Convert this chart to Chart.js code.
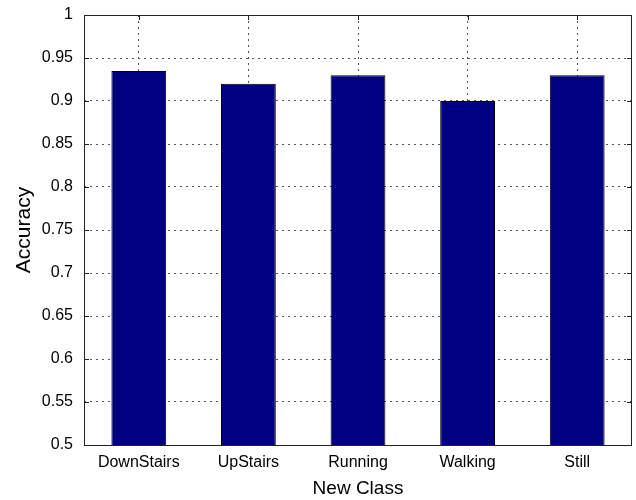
<!DOCTYPE html>
<html>
<head>
<meta charset="utf-8">
<title>Accuracy per new class</title>
<script src="https://cdn.jsdelivr.net/npm/chart.js@4/dist/chart.umd.min.js"></script>
<style>
  html, body { margin: 0; padding: 0; background: #fff; }
  #myChart { display: block; }
</style>
</head>
<body>
<canvas id="myChart" width="636" height="500"></canvas>
<script>
var classes = ['DownStairs', 'UpStairs', 'Running', 'Walking', 'Still'];
var accuracy = [0.935, 0.92, 0.93, 0.90, 0.93];
var yMin = 0.5, yMax = 1, yStep = 0.05;

// box around the plot plus small inward tick marks, matlab style
var axesBox = {
  id: 'axesBox',
  beforeDatasetsDraw: function (chart) {
    var ctx = chart.ctx, a = chart.chartArea;
    var xs = chart.scales.x, ys = chart.scales.y;
    var len = 5;
    ctx.save();
    ctx.strokeStyle = '#222';
    ctx.lineWidth = 1;
    ctx.beginPath();
    ys.ticks.forEach(function (t, i) {
      var y = Math.round(ys.getPixelForTick(i)) + 0.5;
      ctx.moveTo(a.left, y); ctx.lineTo(a.left + len, y);
      ctx.moveTo(a.right, y); ctx.lineTo(a.right - len, y);
    });
    xs.ticks.forEach(function (t, i) {
      var x = Math.round(xs.getPixelForTick(i)) + 0.5;
      ctx.moveTo(x, a.top); ctx.lineTo(x, a.top + len);
    });
    ctx.stroke();
    ctx.restore();
  },
  afterDraw: function (chart) {
    var ctx = chart.ctx, a = chart.chartArea;
    ctx.save();
    ctx.strokeStyle = '#222';
    ctx.lineWidth = 1;
    ctx.strokeRect(Math.round(a.left) + 0.5, Math.round(a.top) + 0.5,
      Math.round(a.right - a.left) - 1, Math.round(a.bottom - a.top));
    ctx.restore();
  }
};

var ctx = document.getElementById('myChart').getContext('2d');
var myChart = new Chart(ctx, {
  type: 'bar',
  data: {
    labels: classes,
    datasets: [{
      data: accuracy,
      backgroundColor: '#000080',
      borderColor: '#000000',
      borderWidth: 1,
      borderSkipped: false,
      barPercentage: 0.5,
      categoryPercentage: 1
    }]
  },
  options: {
    responsive: false,
    animation: false,
    events: [],
    layout: { padding: { top: 15, right: 4, left: 0, bottom: 0 } },
    plugins: { legend: { display: false }, tooltip: { enabled: false } },
    scales: {
      x: {
        offset: true,
        grid: {
          offset: false,
          color: '#555',
          lineWidth: 1,
          drawTicks: false,
          tickLength: 0
        },
        border: { display: false, dash: [2, 4] },
        ticks: {
          color: '#000',
          padding: 8,
          font: { family: 'Liberation Sans, Arial, sans-serif', size: 16 }
        },
        title: {
          display: true,
          text: 'New Class',
          color: '#000',
          padding: { top: 0, bottom: 0 },
          font: { family: 'Liberation Sans, Arial, sans-serif', size: 19 }
        },
        afterFit: function (scale) {
          scale.height = 55;
          scale.paddingLeft = 0;
          scale.paddingRight = 0;
        }
      },
      y: {
        min: yMin,
        max: yMax,
        grid: {
          color: '#555',
          lineWidth: 1,
          drawTicks: false,
          tickLength: 0
        },
        border: { display: false, dash: [2, 4] },
        ticks: {
          stepSize: yStep,
          color: '#000',
          padding: 11,
          font: { family: 'Liberation Sans, Arial, sans-serif', size: 16 },
          callback: function (v) { return String(+v.toFixed(2)); }
        },
        title: {
          display: true,
          text: 'Accuracy',
          color: '#000',
          padding: { top: 12, bottom: 0 },
          font: { family: 'Liberation Sans, Arial, sans-serif', size: 21 }
        },
        afterFit: function (scale) {
          scale.width = 84;
          scale.paddingTop = 0;
          scale.paddingBottom = 0;
        }
      }
    }
  },
  plugins: [axesBox]
});
</script>
</body>
</html>
